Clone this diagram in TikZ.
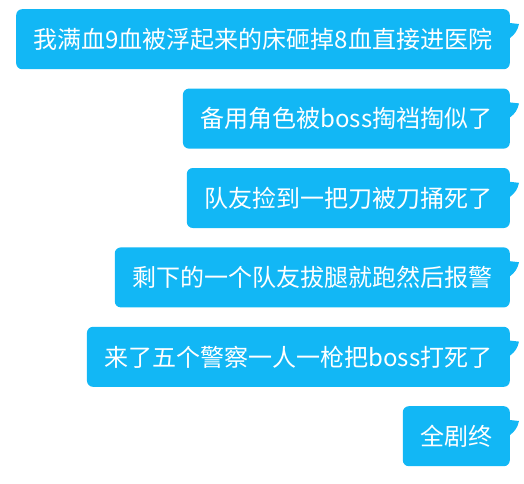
\documentclass[tikz,border=0pt]{standalone}
\usepackage{fontspec}
\setmainfont{Noto Sans CJK SC}
\usetikzlibrary{positioning}
\definecolor{bubble}{RGB}{18,183,245}

\begin{document}
\begin{tikzpicture}[x=1pt,y=1pt]
  \tikzstyle{msg} = [fill=bubble, text=white, rounded corners=6pt,
    minimum height=60pt, inner xsep=17.5pt, font=\fontsize{24}{24}\selectfont]
  \useasboundingbox (0,0) rectangle (524,-483);

  \node[msg, anchor=north east] (m1) at (510,-9) {我满血9血被浮起来的床砸掉8血直接进医院};
  \node[msg, below=19pt of m1.south east, anchor=north east] (m2) {备用角色被boss掏裆掏似了};
  \node[msg, below=19pt of m2.south east, anchor=north east] (m3) {队友捡到一把刀被刀捅死了};
  \node[msg, below=19pt of m3.south east, anchor=north east] (m4) {剩下的一个队友拔腿就跑然后报警};
  \node[msg, below=19pt of m4.south east, anchor=north east] (m5) {来了五个警察一人一枪把boss打死了};
  \node[msg, below=19pt of m5.south east, anchor=north east] (m6) {全剧终};

  % tails
  \foreach \m in {m1,m2,m3,m4,m5,m6}
    \fill[bubble] ([yshift=-14pt]\m.north east) -- ([xshift=9pt,yshift=-15pt]\m.north east)
      to[bend left=20] ([yshift=-29pt]\m.north east) -- cycle;
\end{tikzpicture}
\end{document}
